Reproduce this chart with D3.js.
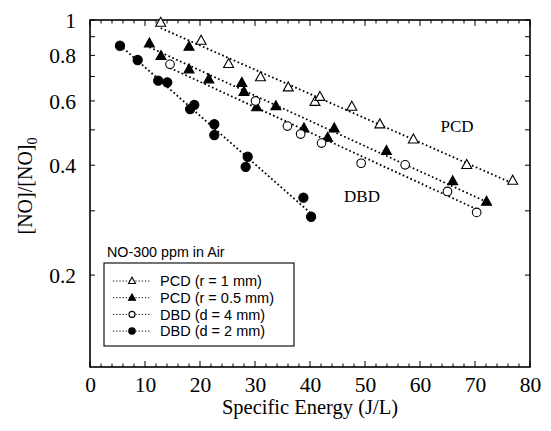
<!DOCTYPE html>
<html><head><meta charset="utf-8">
<script src="https://cdn.jsdelivr.net/npm/d3@7"></script>
<style>body{margin:0;background:#fff}svg{display:block}</style>
</head><body>
<svg id="chart" width="551" height="431"></svg>
<script>
// ---- data ----
const pcd1X = [12.85, 20.2, 25.2, 31.0, 36.05, 40.9, 41.8, 47.6, 52.7, 58.8, 68.5, 76.85];
const pcd1Y = [0.983, 0.878, 0.758, 0.697, 0.654, 0.597, 0.616, 0.579, 0.518, 0.471, 0.401, 0.363];
const pcd05X = [10.8, 12.9, 18.0, 18.0, 21.6, 27.6, 28.0, 30.3, 33.8, 38.9, 43.2, 44.4, 53.9, 65.95, 72.1];
const pcd05Y = [0.863, 0.797, 0.845, 0.733, 0.688, 0.673, 0.636, 0.577, 0.581, 0.505, 0.476, 0.505, 0.438, 0.362, 0.318];
const dbd4X = [14.55, 30.1, 35.9, 38.3, 42.1, 49.3, 57.3, 65.0, 70.3];
const dbd4Y = [0.756, 0.600, 0.512, 0.487, 0.460, 0.405, 0.401, 0.339, 0.297];
const dbd2X = [5.45, 8.67, 12.4, 14.05, 18.2, 18.96, 22.6, 22.6, 28.3, 28.67, 38.8, 40.2];
const dbd2Y = [0.850, 0.777, 0.682, 0.675, 0.570, 0.585, 0.518, 0.484, 0.396, 0.422, 0.326, 0.289];
const seriesNames = ["PCD (r = 1 mm)", "PCD (r = 0.5 mm)", "DBD (d = 4 mm)", "DBD (d = 2 mm)"];
const seriesMarkers = ["triOpen", "triFill", "circOpen", "circFill"];
const xTicks = [0, 10, 20, 30, 40, 50, 60, 70, 80];
const yTickLabels = [0.2, 0.4, 0.6, 0.8, 1];
const yMinorTicks = [0.2, 0.3, 0.4, 0.5, 0.6, 0.7, 0.8, 0.9, 1];

// ---- layout ----
const L = 90, R = 530, T = 20, B = 367;
const svg = d3.select("#chart");
const x = d3.scaleLinear().domain([0, 80]).range([L, R]);
const y = d3.scaleLog().domain([0.112, 1]).range([B, T]);

const series = [
  {xs: pcd1X, ys: pcd1Y},
  {xs: pcd05X, ys: pcd05Y},
  {xs: dbd4X, ys: dbd4Y},
  {xs: dbd2X, ys: dbd2Y}
].map((s, i) => ({...s, name: seriesNames[i], marker: seriesMarkers[i],
  pts: s.xs.map((v, j) => [v, s.ys[j]])}));

// frame
svg.append("rect").attr("x", L).attr("y", T).attr("width", R - L).attr("height", B - T)
  .attr("fill", "none").attr("stroke", "#000").attr("stroke-width", 1.6);

// ticks (inward, on all four sides)
const minorX = d3.range(0, 81, 2);
function ticksX(g, ypos, dir) {
  minorX.forEach(v => {
    const len = v % 10 === 0 ? 6 : 3.5;
    g.append("line").attr("x1", x(v)).attr("x2", x(v)).attr("y1", ypos).attr("y2", ypos + dir * len)
      .attr("stroke", "#000").attr("stroke-width", 1);
  });
}
function ticksY(g, xpos, dir) {
  yMinorTicks.forEach(v => {
    g.append("line").attr("x1", xpos).attr("x2", xpos + dir * 5).attr("y1", y(v)).attr("y2", y(v))
      .attr("stroke", "#000").attr("stroke-width", 1);
  });
}
const tg = svg.append("g");
ticksX(tg, B, -1); ticksX(tg, T, 1); ticksY(tg, L, 1); ticksY(tg, R, -1);

// tick labels
const xAxis = svg.append("g").attr("transform", `translate(0,${B})`)
  .call(d3.axisBottom(x).tickValues(xTicks).tickSize(0).tickPadding(0).tickFormat(d3.format("d")));
xAxis.select(".domain").remove();
xAxis.selectAll("text").attr("y", 25).attr("dy", 0)
  .attr("font-family", "Liberation Serif, Times New Roman, serif").attr("font-size", 21.5).attr("fill", "#000");

const yAxis = svg.append("g").attr("transform", `translate(${L},0)`)
  .call(d3.axisLeft(y).tickValues(yTickLabels).tickSize(0).tickPadding(14).tickFormat(d => d === 1 ? "1" : d3.format(".1f")(d)));
yAxis.select(".domain").remove();
yAxis.selectAll("text").attr("dy", "0.35em")
  .attr("font-family", "Liberation Serif, Times New Roman, serif").attr("font-size", 21.5).attr("fill", "#000");

// axis titles
svg.append("text").attr("x", (L + R) / 2).attr("y", 414).attr("text-anchor", "middle")
  .attr("font-family", "Liberation Serif, Times New Roman, serif").attr("font-size", 20.5)
  .text("Specific Energy (J/L)");
const yt = svg.append("text").attr("transform", "translate(32,186) rotate(-90)").attr("text-anchor", "middle")
  .attr("font-family", "Liberation Serif, Times New Roman, serif").attr("font-size", 20);
yt.append("tspan").text("[NO]/[NO]");
yt.append("tspan").attr("dy", 5).attr("font-size", 14).text("0");

// fit lines (exponential fit = straight on log scale)
const dotted = "1.7,2.5";
series.forEach(s => {
  const mx = d3.mean(s.pts, p => p[0]);
  const my = d3.mean(s.pts, p => Math.log10(p[1]));
  const sxy = d3.sum(s.pts, p => (p[0] - mx) * (Math.log10(p[1]) - my));
  const sxx = d3.sum(s.pts, p => (p[0] - mx) ** 2);
  const b = sxy / sxx, a = my - b * mx;
  const [x0, x1] = d3.extent(s.pts, p => p[0]);
  const f = v => Math.pow(10, a + b * v);
  svg.append("line").attr("x1", x(x0)).attr("y1", y(f(x0))).attr("x2", x(x1)).attr("y2", y(f(x1)))
    .attr("stroke", "#000").attr("stroke-width", 1.8).attr("stroke-dasharray", dotted);
});

// markers
function drawMarker(g, type, cx, cy, scale) {
  const sc = scale || 1;
  if (type === "triOpen" || type === "triFill") {
    const h = 9 * sc, w = 10 * sc;
    g.append("path").attr("d", `M${cx},${cy - h * 0.6}L${cx + w / 2},${cy + h * 0.4}L${cx - w / 2},${cy + h * 0.4}Z`)
      .attr("fill", type === "triFill" ? "#000" : "#fff").attr("stroke", "#000").attr("stroke-width", 1.1);
  } else {
    g.append("circle").attr("cx", cx).attr("cy", cy).attr("r", (type === "circFill" ? 4.6 : 4.3) * sc)
      .attr("fill", type === "circFill" ? "#000" : "#fff").attr("stroke", "#000").attr("stroke-width", 1.1);
  }
}
const mg = svg.append("g");
series.forEach(s => s.pts.forEach(p => drawMarker(mg, s.marker, x(p[0]), y(p[1]))));

// annotations
svg.append("text").attr("x", 457).attr("y", 132).attr("text-anchor", "middle")
  .attr("font-family", "Liberation Serif, Times New Roman, serif").attr("font-size", 17).text("PCD");
svg.append("text").attr("x", 362).attr("y", 202).attr("text-anchor", "middle")
  .attr("font-family", "Liberation Serif, Times New Roman, serif").attr("font-size", 17).text("DBD");

// legend
svg.append("text").attr("x", 107).attr("y", 257)
  .attr("font-family", "Liberation Sans, Arial, sans-serif").attr("font-size", 14.3).text("NO-300 ppm in Air");
svg.append("rect").attr("x", 104).attr("y", 263).attr("width", 190).attr("height", 83)
  .attr("fill", "#fff").attr("stroke", "#000").attr("stroke-width", 1.1);
const lg = svg.append("g");
series.forEach((s, i) => {
  const cy = 281 + i * 16.7;
  lg.append("line").attr("x1", 113).attr("x2", 150).attr("y1", cy).attr("y2", cy)
    .attr("stroke", "#000").attr("stroke-width", 1).attr("stroke-dasharray", "1.2,2");
  drawMarker(lg, s.marker, 132, cy, 0.7);
  lg.append("text").attr("x", 160).attr("y", cy).attr("dy", "0.36em")
    .attr("font-family", "Liberation Sans, Arial, sans-serif").attr("font-size", 14.5).text(s.name);
});
</script>
</body></html>
